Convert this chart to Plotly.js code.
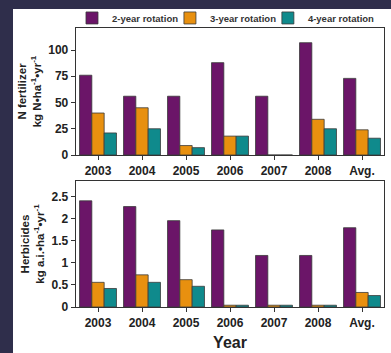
<!DOCTYPE html>
<html><head><meta charset="utf-8">
<script src="https://cdn.plot.ly/plotly-3.0.1.min.js"></script>
<style>
html,body{margin:0;padding:0;background:#2f2e4b;width:391px;height:353px;overflow:hidden;}
#chart{position:absolute;left:13px;top:9px;width:378px;height:344px;background:#fff;}
</style></head><body>
<div id="chart"></div>
<script>
const categories = ["2003","2004","2005","2006","2007","2008","Avg."];
const seriesNames = ["2-year rotation","3-year rotation","4-year rotation"];
const nFert2yr = [76, 56, 56, 88, 56, 107, 73];
const nFert3yr = [40, 45, 9, 18, 0, 34, 24];
const nFert4yr = [21, 25, 7, 18, 0, 25, 16];
const herb2yr = [2.41, 2.28, 1.96, 1.75, 1.17, 1.17, 1.80];
const herb3yr = [0.56, 0.73, 0.62, 0.04, 0.04, 0.04, 0.33];
const herb4yr = [0.42, 0.56, 0.47, 0.04, 0.04, 0.04, 0.26];
const colors = ["#6b1568", "#e8900f", "#0f8a8c"];

const font = "Liberation Sans, Arial, sans-serif";
const legendIds = ["legend","legend2","legend3"];
function bar(y, i, xa, ya, show){
  return {type:"bar", x:categories, y:y, name:seriesNames[i], xaxis:xa, yaxis:ya,
    showlegend:show, legendgroup:"g"+i, legend:legendIds[i],
    marker:{color:colors[i], line:{color:"#3a3a3a", width:0.8}}};
}
const data = [
  bar(nFert2yr,0,"x","y",true), bar(nFert3yr,1,"x","y",true), bar(nFert4yr,2,"x","y",true),
  bar(herb2yr,0,"x2","y2",false), bar(herb3yr,1,"x2","y2",false), bar(herb4yr,2,"x2","y2",false)
];
const axCommon = {showline:true, mirror:true, linecolor:"#333", linewidth:1.3,
  ticks:"outside", ticklen:4, tickcolor:"#333", showgrid:false, zeroline:false,
  tickfont:{family:font, size:12, color:"#222", weight:"bold"}};
function leg(x){
  return {orientation:"h", x:x, xanchor:"left", y:1.036, yanchor:"middle",
    font:{family:font, size:9.5, color:"#333", weight:"bold"}, itemwidth:30,
    bgcolor:"rgba(0,0,0,0)"};
}
const layout = {
  width:378, height:344, paper_bgcolor:"#fff", plot_bgcolor:"#fff",
  margin:{l:63, r:7, t:19, b:46, autoexpand:false},
  barmode:"group", bargap:0.16, bargroupgap:0,
  font:{family:font},
  showlegend:true,
  legend:leg(-0.013), legend2:leg(0.305), legend3:leg(0.623),
  xaxis:Object.assign({}, axCommon, {type:"category", domain:[0,1], anchor:"y"}),
  yaxis:Object.assign({}, axCommon, {domain:[0.5448,1], anchor:"x", range:[0,121],
    tickvals:[0,25,50,75,100],
    title:{text:"<b>N fertilizer</b><br><b>kg N•ha<sup>-1</sup>•yr<sup>-1</sup></b>",
      font:{family:font, size:11.5, color:"#222"}, standoff:4}}),
  xaxis2:Object.assign({}, axCommon, {type:"category", domain:[0,1], anchor:"y2",
    title:{text:"<b>Year</b>", font:{family:font, size:16, color:"#222"}, standoff:8}}),
  yaxis2:Object.assign({}, axCommon, {domain:[0,0.4516], anchor:"x2", range:[0,2.86],
    tickvals:[0,0.5,1,1.5,2,2.5], ticktext:["0","0.5","1","1.5","2","2.5"],
    title:{text:"<b>Herbicides</b><br><b>kg a.i.•ha<sup>-1</sup>•yr<sup>-1</sup></b>",
      font:{family:font, size:11.5, color:"#222"}, standoff:4}})
};
Plotly.newPlot("chart", data, layout, {displayModeBar:false, staticPlot:true});
</script></body></html>
